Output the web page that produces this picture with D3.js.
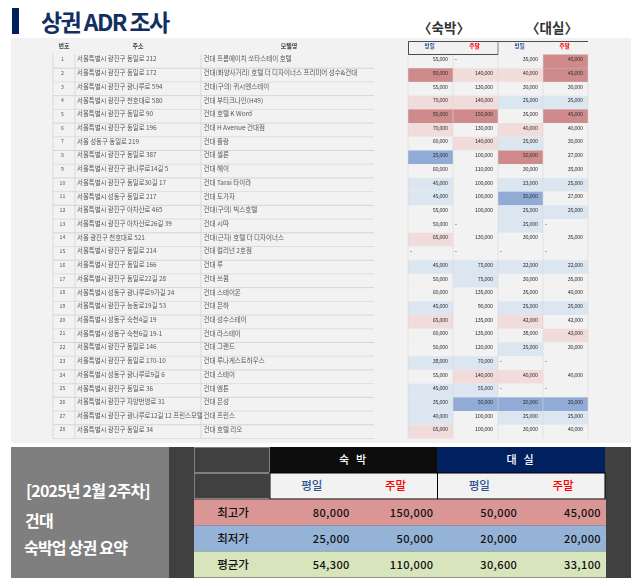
<!DOCTYPE html>
<html>
<head>
<meta charset="utf-8">
<script src="https://cdn.jsdelivr.net/npm/d3@7"></script>
<style>
  html, body { margin: 0; padding: 0; background: #fff; }
  svg { display: block; }
  text { font-family: "Noto Sans CJK KR", "Noto Sans", sans-serif; }
</style>
</head>
<body>
<svg></svg>
<script>
const addresses = [
  "서울특별시 광진구 동일로 212", "서울특별시 광진구 동일로 172", "서울특별시 광진구 광나루로 594", "서울특별시 광진구 천호대로 580",
  "서울특별시 광진구 동일로 90", "서울특별시 광진구 동일로 196", "서울 성동구 동일로 219", "서울특별시 광진구 동일로 387",
  "서울특별시 광진구 광나루로14길 5", "서울특별시 광진구 동일로30길 17", "서울특별시 성동구 동일로 217", "서울특별시 광진구 아차산로 465",
  "서울특별시 광진구 아차산로26길 39", "서울 광진구 천호대로 521", "서울특별시 광진구 동일로 214", "서울특별시 광진구 동일로 166",
  "서울특별시 광진구 동일로22길 28", "서울특별시 성동구 광나루로9가길 24", "서울특별시 광진구 능동로19길 53", "서울특별시 성동구 숙천4길 19",
  "서울특별시 성동구 숙천6길 19-1", "서울특별시 광진구 동일로 146", "서울특별시 광진구 동일로 170-10", "서울특별시 성동구 광나루로9길 6",
  "서울특별시 광진구 동일로 36", "서울특별시 광진구 자양번영로 31", "서울특별시 광진구 광나루로12길 12 프린스모텔", "서울특별시 광진구 동일로 34"
];
const motels = [
  "건대 프롬에이치 쏘타스테이 호텔", "건대(화양사거리) 호텔 더 디자이너스 프리미어 성수&건대", "건대(구의) 퀴시엔스테이", "건대 부티크나인(H49)",
  "건대 호텔 K Word", "건대 H Avenue 건대점", "건대 플랑", "건대 셀론",
  "건대 헤이", "건대 Tarai 타이라", "건대 도가자", "건대(구의) 빅스호텔",
  "건대 시따", "건대(근자) 호텔 더 디자이너스", "건대 컬리넌 2호점", "건대 루",
  "건대 쓰윔", "건대 스테이온", "건대 은하", "건대 성수스테이",
  "건대 라스테이", "건대 그랜드", "건대 루나게스트하우스", "건대 스테이",
  "건대 엠톤", "건대 은성", "건대 프린스", "건대 호텔 리오"
];
const stayWeekday = [55000,80000,55000,70000,80000,70000,60000,25000,60000,45000,45000,55000,50000,65000,null,45000,50000,60000,45000,65000,60000,50000,38000,55000,45000,35000,40000,65000];
const stayWeekend = [null,140000,130000,140000,150000,130000,140000,100000,110000,100000,100000,100000,null,130000,null,75000,75000,135000,90000,135000,135000,120000,70000,140000,55000,50000,100000,100000];
const rentWeekday = [35000,40000,30000,25000,35000,40000,25000,50000,30000,23000,20000,25000,25000,30000,null,22000,30000,35000,25000,42000,38000,25000,null,40000,null,20000,25000,30000];
const rentWeekend = [45000,45000,30000,25000,45000,40000,30000,27000,35000,25000,27000,25000,null,35000,null,22000,35000,40000,25000,42000,43000,30000,null,40000,null,20000,25000,40000];
const priceColumns = [stayWeekday, stayWeekend, rentWeekday, rentWeekend];
const columnBreaks = [[26000,46000,65000,80000],[51000,76000,140000,150000],[21000,26000,40000,50000],[21000,26000,43000,45000]];
const heatColors = ["#8fabd6","#dce6f1","#f2f2f2","#f2dcdb","#cf8b8b"];

const dayLabels = ["평일","주말","평일","주말"];
const dayColors = ["#2f5597","#ff0000","#2f5597","#ff0000"];
const summaryLabels = ["최고가","최저가","평균가"];
const summaryValues = [
  [80000,150000,50000,45000],
  [25000,50000,20000,20000],
  [54300,110000,30600,33100]
];
const summaryColors = ["#da9694","#95b3d7","#d8e4bc"];

const svg = d3.select("svg").attr("width", 638).attr("height", 584);
const fmt = d3.format(",");
const rowIds = d3.range(28);

// title
svg.append("rect").attr("x", 12).attr("y", 8).attr("width", 7).attr("height", 26).attr("fill", "#002060");
svg.append("text").attr("x", 41).attr("y", 30.5).attr("font-size", 23).attr("font-weight", 700)
  .attr("letter-spacing", -1.6).attr("fill", "#12305f").text("상권 ADR 조사");

// top table
svg.append("rect").attr("x", 11).attr("y", 38).attr("width", 620).attr("height", 405).attr("fill", "#f2f2f2");

const y = d3.scaleBand().domain(rowIds).range([54.5, 438.5]);
const xPrice = d3.scaleBand().domain(d3.range(4)).range([408, 588]);
const heat = columnBreaks.map(b => d3.scaleThreshold().domain(b).range(heatColors));

const table = svg.append("g").style("filter", "blur(0.3px)");

// text column rules
table.selectAll("line.row").data(rowIds).join("line")
  .attr("class", "row")
  .attr("x1", 53).attr("x2", 374)
  .attr("y1", d => y(d) + y.bandwidth()).attr("y2", d => y(d) + y.bandwidth())
  .attr("stroke", d => d % 2 ? "#d4d4d4" : "#c8c8c8").attr("stroke-width", 0.7);
table.selectAll("line.col").data([53, 75, 201]).join("line")
  .attr("class", "col")
  .attr("x1", d => d).attr("x2", d => d).attr("y1", 54).attr("y2", 438.5)
  .attr("stroke", "#d0d0d0").attr("stroke-width", 0.7);

// heat cells
priceColumns.forEach((col, c) => {
  const g = table.append("g");
  g.selectAll("rect").data(col).join("rect")
    .attr("x", xPrice(c)).attr("y", (d, i) => y(i))
    .attr("width", xPrice.bandwidth()).attr("height", y.bandwidth())
    .attr("fill", d => d == null ? heatColors[2] : heat[c](d));
  g.selectAll("text").data(col).join("text")
    .attr("x", d => d == null ? xPrice(c) + 2 : xPrice(c) + xPrice.bandwidth() - 5.2)
    .attr("y", (d, i) => y(i) + y.bandwidth() / 2 - 0.2)
    .attr("text-anchor", d => d == null ? "start" : "end")
    .attr("font-size", 5.5).attr("letter-spacing", -0.3).attr("fill", "#333")
    .text(d => d == null ? "-" : fmt(d));
});
table.selectAll("line.cellrule").data(d3.range(5)).join("line")
  .attr("class", "cellrule")
  .attr("x1", d => 408 + d * xPrice.bandwidth()).attr("x2", d => 408 + d * xPrice.bandwidth())
  .attr("y1", 54).attr("y2", 438.5)
  .attr("stroke", "#d6d6d6").attr("stroke-width", 0.6);

// row text
table.selectAll("text.num").data(rowIds).join("text")
  .attr("class", "num").attr("x", 62.5).attr("y", d => y(d) + y.bandwidth() / 2 - 0.2)
  .attr("text-anchor", "middle").attr("font-size", 5.2).attr("fill", "#555").text(d => d + 1);
table.selectAll("text.addr").data(addresses).join("text")
  .attr("class", "addr").attr("x", 77).attr("y", (d, i) => y(i) + y.bandwidth() / 2 + 0.1)
  .attr("font-size", 6.4).attr("fill", "#555").text(d => d);
table.selectAll("text.motel").data(motels).join("text")
  .attr("class", "motel").attr("x", 203.5).attr("y", (d, i) => y(i) + y.bandwidth() / 2 + 0.1)
  .attr("font-size", 6.5).attr("fill", "#555").text(d => d);

// header row
table.selectAll("text.head").data([["번호", 64], ["주소", 138], ["모텔명", 289]]).join("text")
  .attr("class", "head").attr("x", d => d[1]).attr("y", 48)
  .attr("text-anchor", "middle").attr("font-size", 6).attr("font-weight", 700).attr("fill", "#444")
  .text(d => d[0]);
table.selectAll("text.day").data(dayLabels).join("text")
  .attr("class", "day").attr("x", (d, i) => xPrice(i) + xPrice.bandwidth() / 2 - 1).attr("y", 48)
  .attr("text-anchor", "middle").attr("font-size", 5.8).attr("font-weight", 700)
  .attr("fill", (d, i) => dayColors[i]).text(d => d);

svg.append("path").attr("d", "M588,41.5H408.5V54.5H498").attr("fill", "none").attr("stroke", "#222").attr("stroke-width", 0.8);
svg.append("path").attr("d", "M498,41.5V54.5").attr("fill", "none").attr("stroke", "#666").attr("stroke-width", 0.8);

svg.selectAll("text.group").data([["〈숙박〉", 444], ["〈대실〉", 552]]).join("text")
  .attr("class", "group").attr("x", d => d[1]).attr("y", 32.5)
  .attr("text-anchor", "middle").attr("font-size", 13.5).attr("font-weight", 700).attr("fill", "#333")
  .text(d => d[0]);

// summary band
svg.append("rect").attr("x", 11).attr("y", 447).attr("width", 158).attr("height", 131).attr("fill", "#7f7f7f");
svg.append("rect").attr("x", 169).attr("y", 447).attr("width", 462).attr("height", 131).attr("fill", "#404040");

svg.selectAll("text.side").data([["[2025년 2월 2주차]", 26, 496.5], ["건대", 25, 526.5], ["숙박업 상권 요약", 24, 553.5]]).join("text")
  .attr("class", "side").attr("x", d => d[1]).attr("y", d => d[2])
  .attr("font-size", 16).attr("font-weight", 700).attr("letter-spacing", -0.8).attr("fill", "#fff")
  .text(d => d[0]);

const xSum = d3.scaleBand().domain(d3.range(4)).range([270, 605]);
const ySum = d3.scaleBand().domain(summaryLabels).range([499.5, 577.5]);

svg.selectAll("rect.corner").data([447.5, 473.5]).join("rect")
  .attr("class", "corner").attr("x", 194.5).attr("y", d => d).attr("width", 75).attr("height", 25)
  .attr("fill", "#404040").attr("stroke", "#9a9a9a").attr("stroke-width", 0.7);

svg.selectAll("rect.groupcell").data([["숙 박", 0, "#0d0d0d"], ["대 실", 2, "#002060"]]).join("rect")
  .attr("class", "groupcell").attr("x", d => xSum(d[1])).attr("y", 447)
  .attr("width", xSum.bandwidth() * 2).attr("height", 26).attr("fill", d => d[2]);
svg.selectAll("text.groupcell").data([["숙 박", 0], ["대 실", 2]]).join("text")
  .attr("class", "groupcell").attr("x", d => xSum(d[1]) + xSum.bandwidth()).attr("y", 464)
  .attr("text-anchor", "middle").attr("font-size", 11).attr("font-weight", 500).attr("letter-spacing", 2.2)
  .attr("fill", "#fff").text(d => d[0]);

svg.selectAll("rect.subcell").data([0, 2]).join("rect")
  .attr("class", "subcell").attr("x", d => xSum(d)).attr("y", 473)
  .attr("width", xSum.bandwidth() * 2).attr("height", 26)
  .attr("fill", "#f2f2f2").attr("stroke", "#000").attr("stroke-width", 1);
svg.selectAll("text.sub").data(dayLabels).join("text")
  .attr("class", "sub").attr("x", (d, i) => xSum(i) + xSum.bandwidth() / 2).attr("y", 490)
  .attr("text-anchor", "middle").attr("font-size", 11.5).attr("font-weight", 500)
  .attr("fill", (d, i) => dayColors[i]).text(d => d);

svg.selectAll("rect.sumrow").data(summaryLabels).join("rect")
  .attr("class", "sumrow").attr("x", 194).attr("y", d => ySum(d))
  .attr("width", 412).attr("height", ySum.bandwidth())
  .attr("fill", (d, i) => summaryColors[i]);
svg.selectAll("text.sumlabel").data(summaryLabels).join("text")
  .attr("class", "sumlabel").attr("x", 233).attr("y", d => ySum(d) + ySum.bandwidth() / 2 + 4)
  .attr("text-anchor", "middle").attr("font-size", 11.5).attr("font-weight", 500).attr("fill", "#111")
  .text(d => d);
summaryValues.forEach((vals, r) => {
  svg.append("g").selectAll("text").data(vals).join("text")
    .attr("x", (d, i) => xSum(i) + xSum.bandwidth() - 4)
    .attr("y", ySum(summaryLabels[r]) + ySum.bandwidth() / 2 + 4)
    .attr("text-anchor", "end").attr("font-size", 11).attr("font-weight", 500)
    .attr("letter-spacing", 0.4).attr("fill", "#111")
    .text(d => fmt(d));
});
</script>
</body>
</html>
